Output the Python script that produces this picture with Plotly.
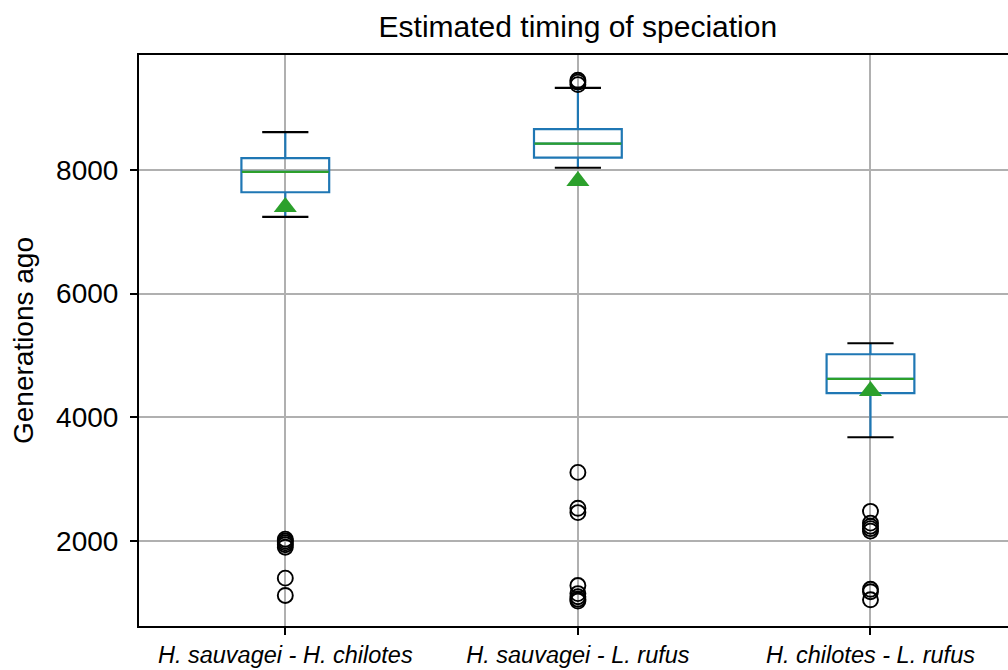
import plotly.graph_objects as go

categories = ["H. sauvagei - H. chilotes", "H. sauvagei - L. rufus", "H. chilotes - L. rufus"]
positions = [1, 2, 3]
q1 = [7640, 8200, 4390]
median = [7968, 8425, 4621]
q3 = [8192, 8662, 5020]
lower_whisker = [7240, 8036, 3678]
upper_whisker = [8612, 9326, 5198]
mean = [7400, 7822, 4427]
outliers = [
    [2030, 2000, 1970, 1940, 1900, 1400, 1120],
    [9450, 9420, 9380, 3110, 2530, 2460, 1280, 1150, 1100, 1060, 1030],
    [2480, 2290, 2240, 2200, 2160, 1220, 1180, 1050],
]

BLUE = "#1f77b4"
GREEN = "#2ca02c"

fig = go.Figure()

for i, pos in enumerate(positions):
    fig.add_trace(go.Box(
        x=[pos], q1=[q1[i]], median=[median[i]], q3=[q3[i]],
        lowerfence=[lower_whisker[i]], upperfence=[upper_whisker[i]],
        width=0.3, whiskerwidth=0, boxpoints=False,
        line=dict(color=BLUE, width=2.2), fillcolor="rgba(0,0,0,0)",
        showlegend=False, hoverinfo="skip",
    ))

# whisker caps (line-ew symbol length is 1.4 x size)
fig.add_trace(go.Scatter(
    x=positions + positions, y=lower_whisker + upper_whisker, mode="markers",
    marker=dict(symbol="line-ew", size=33, line=dict(color="black", width=2.2)),
    showlegend=False, hoverinfo="skip",
))
# medians
fig.add_trace(go.Scatter(
    x=positions, y=median, mode="markers",
    marker=dict(symbol="line-ew", size=62, line=dict(color=GREEN, width=2.2)),
    showlegend=False, hoverinfo="skip",
))
# outliers
ox, oy = [], []
for pos, vals in zip(positions, outliers):
    ox += [pos] * len(vals)
    oy += vals
fig.add_trace(go.Scatter(
    x=ox, y=oy, mode="markers",
    marker=dict(symbol="circle-open", size=15, color="black", line=dict(color="black", width=1.9)),
    showlegend=False, hoverinfo="skip",
))
# means
fig.add_trace(go.Scatter(
    x=positions, y=mean, mode="markers",
    marker=dict(symbol="triangle-up", size=20, color=GREEN, line=dict(width=0)),
    showlegend=False, hoverinfo="skip",
))

fig.update_layout(
    width=1008, height=670,
    margin=dict(l=139, r=0, t=55, b=44),
    paper_bgcolor="white", plot_bgcolor="white",
    font=dict(family="Liberation Sans, Arial, sans-serif", color="black", size=28),
    title=dict(text="Estimated timing of speciation", x=0.505, xref="paper",
               y=1 - 26 / 670, yref="container", xanchor="center", yanchor="middle",
               font=dict(size=30, color="black")),
)
fig.update_xaxes(
    range=[0.5, 3.47], tickmode="array", tickvals=positions,
    ticktext=[f"<i>{c}</i>" for c in categories],
    tickfont=dict(family="Liberation Sans Narrow, Arial Narrow, sans-serif", size=23.5),
    showgrid=True, gridcolor="#b0b0b0", gridwidth=1.7,
    showline=True, linecolor="black", linewidth=2, mirror=True,
    ticks="outside", ticklen=7, tickwidth=1.6, tickcolor="black",
    zeroline=False,
)
fig.update_yaxes(
    range=[626, 9859], tickmode="array", tickvals=[2000, 4000, 6000, 8000],
    ticktext=["2000", "4000", "6000", "8000"],
    ticklabelstandoff=6,
    title=dict(text="Generations ago", standoff=14, font=dict(size=28)),
    showgrid=True, gridcolor="#b0b0b0", gridwidth=1.7,
    showline=True, linecolor="black", linewidth=2, mirror=False,
    ticks="outside", ticklen=7, tickwidth=1.6, tickcolor="black",
    zeroline=False,
)

fig.write_html("out.html")
